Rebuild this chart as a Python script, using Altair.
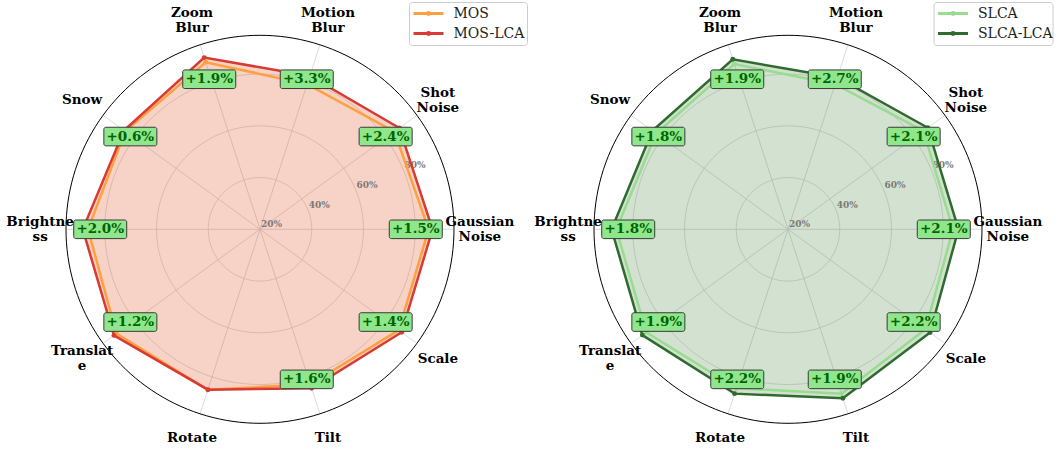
import altair as alt
import pandas as pd

# ---- data -------------------------------------------------------------
categories = ["Gaussian Noise", "Shot Noise", "Motion Blur", "Zoom Blur", "Snow",
              "Brightness", "Translate", "Rotate", "Tilt", "Scale"]
# rim labels, wrapped the way they are printed
category_labels = ["Gaussian\nNoise", "Shot\nNoise", "Motion\nBlur", "Zoom\nBlur", "Snow",
                   "Brightne\nss", "Translat\ne", "Rotate", "Tilt", "Scale"]

mos = [85.2, 84.2, 79.0, 87.9, 84.4, 86.5, 88.6, 85.2, 83.0, 86.3]
mos_lca = [86.7, 86.6, 82.3, 89.8, 85.0, 88.5, 89.8, 85.2, 84.6, 87.7]
slca = [83.8, 84.7, 79.0, 87.2, 83.0, 86.4, 87.7, 84.6, 86.8, 85.7]
slca_lca = [85.9, 86.8, 81.7, 89.1, 84.8, 88.2, 89.6, 86.8, 88.7, 87.9]

radial_ticks = [20, 40, 60, 80]
ring_levels = [40, 60, 80]
R_MIN, R_MAX = 20, 95

panels = [
    {"base": "MOS", "lca": "MOS-LCA", "base_vals": mos, "lca_vals": mos_lca},
    {"base": "SLCA", "lca": "SLCA-LCA", "base_vals": slca, "lca_vals": slca_lca},
]
series_names = ["MOS", "MOS-LCA", "SLCA", "SLCA-LCA"]
series_colors = ["#ffa040", "#d93a33", "#98dc8f", "#2f6b2f"]
fill_colors = ["#df4f1f", "#4b8743"]

# ---- layout -----------------------------------------------------------
W, H = 1055, 452
K = 194 / (R_MAX - R_MIN)          # pixels per percentage point
CY = 229.3
CX_EXPR = "datum.panel == 0 ? 260 : 788"
SERIF = "DejaVu Serif"
RING_STEPS = 180                   # segments used to trace each grid circle
GRID = "#d2d2d2"

xs = alt.Scale(domain=[0, W], nice=False, zero=False)
ys = alt.Scale(domain=[0, H], nice=False, zero=False, reverse=True)


def X(f):
    return alt.X(f, type="quantitative", scale=xs, axis=None)


def Y(f):
    return alt.Y(f, type="quantitative", scale=ys, axis=None)


def polar(chart, angle_expr="datum.idx * PI / 5"):
    """Convert (idx/angle, value) rows into canvas x/y around each panel's centre."""
    return chart.transform_calculate(
        ang=angle_expr,
        cx=CX_EXPR,
        cy=str(CY),
        rp=f"(datum.value - {R_MIN}) * {K}",
    ).transform_calculate(
        px="datum.cx + datum.rp * cos(datum.ang)",
        py="datum.cy - datum.rp * sin(datum.ang)",
    )


# ---- tables -------------------------------------------------------------
rows = []
for p, spec in enumerate(panels):
    for i in range(len(categories)):
        rows.append({"panel": p, "idx": i, "series": "base", "name": spec["base"],
                     "value": spec["base_vals"][i]})
        rows.append({"panel": p, "idx": i, "series": "lca", "name": spec["lca"],
                     "value": spec["lca_vals"][i]})
df = pd.DataFrame(rows)

delta_rows = []
for p, spec in enumerate(panels):
    for i in range(len(categories)):
        d = round(spec["lca_vals"][i] - spec["base_vals"][i], 1)
        if d > 0:
            delta_rows.append({"panel": p, "idx": i, "value": 81, "text": f"+{d:.1f}%"})
df_delta = pd.DataFrame(delta_rows)

df_rings = pd.DataFrame([
    {"panel": p, "ring": f"{p}-{lvl}", "value": lvl, "k": k}
    for p in (0, 1) for lvl in ring_levels + [R_MAX] for k in range(RING_STEPS)
])
df_spokes = pd.DataFrame([{"panel": p, "idx": i, "value": R_MAX}
                          for p in (0, 1) for i in range(len(categories))])
df_ticks = pd.DataFrame([{"panel": p, "value": v, "text": f"{v}%"}
                         for p in (0, 1) for v in radial_ticks])
df_cats = pd.DataFrame([{"panel": p, "idx": i, "value": 105, "text": category_labels[i],
                         "nl": category_labels[i].count("\n") + 1}
                        for p in (0, 1) for i in range(len(categories))])

legend_left = [409.5, 934.0]
legend_right = [527.5, 1053.0]
df_legbox = pd.DataFrame([{"x0": legend_left[p], "x1": legend_right[p], "y0": 2.5, "y1": 45.5}
                          for p in (0, 1)])
df_leg = pd.DataFrame([
    {"name": panels[p][key], "lx0": legend_left[p] + 4, "lx1": legend_left[p] + 34,
     "mx": legend_left[p] + 19, "tx": legend_left[p] + 44, "ly": 13.5 + 20 * r}
    for p in (0, 1) for r, key in enumerate(["base", "lca"])
])

color = alt.Color("name:N", scale=alt.Scale(domain=series_names, range=series_colors), legend=None)
ring_angle = f"datum.k * 2 * PI / {RING_STEPS}"

layers = []

# grid circles and spokes
layers.append(
    polar(alt.Chart(df_rings).transform_filter(f"datum.value < {R_MAX}"), angle_expr=ring_angle)
    .mark_line(interpolate="linear-closed", color=GRID, strokeWidth=0.8)
    .encode(x=X("px"), y=Y("py"), detail="ring:N", order="k:Q")
)
layers.append(
    polar(alt.Chart(df_spokes)).transform_calculate(cyv=str(CY))
    .mark_rule(color=GRID, strokeWidth=0.8)
    .encode(x=X("cx"), y=Y("cyv"), x2="px:Q", y2="py:Q")
)

# translucent polygon fill, one per panel
for p in (0, 1):
    layers.append(
        polar(alt.Chart(df).transform_filter(f"datum.panel == {p} && datum.series == 'lca'"))
        .mark_line(interpolate="linear-closed", fill=fill_colors[p], fillOpacity=0.25,
                   strokeOpacity=0)
        .encode(x=X("px"), y=Y("py"), order="idx:Q")
    )

# radial tick labels
layers.append(
    polar(alt.Chart(df_ticks), angle_expr="PI / 8")
    .mark_text(font=SERIF, fontSize=9, fontWeight="bold", color="#7a7a7a",
               align="left", baseline="middle", dx=1, dy=-5)
    .encode(x=X("px"), y=Y("py"), text="text:N")
)

# outer frame
layers.append(
    polar(alt.Chart(df_rings).transform_filter(f"datum.value == {R_MAX}"), angle_expr=ring_angle)
    .mark_line(interpolate="linear-closed", color="#000000", strokeWidth=1)
    .encode(x=X("px"), y=Y("py"), detail="ring:N", order="k:Q")
)

# series lines and markers (baseline below, LCA on top)
for s in ("base", "lca"):
    sub = polar(alt.Chart(df).transform_filter(f"datum.series == '{s}'"))
    layers.append(
        sub.mark_line(interpolate="linear-closed", strokeWidth=2.5)
        .encode(x=X("px"), y=Y("py"), color=color, detail="name:N", order="idx:Q")
    )
    layers.append(
        sub.mark_circle(size=24, opacity=1)
        .encode(x=X("px"), y=Y("py"), color=color)
    )

# improvement badges
badge = polar(alt.Chart(df_delta)).transform_calculate(
    bx="datum.px - 2", bx0="datum.px - 28.5", bx1="datum.px + 24.5",
    by0="datum.py - 9.3", by1="datum.py + 9.3",
)
layers.append(
    badge.mark_rect(fill="#90e68c", stroke="#3a3a3a", strokeWidth=1, cornerRadius=2)
    .encode(x=X("bx0"), x2="bx1:Q", y=Y("by0"), y2="by1:Q")
)
layers.append(
    badge.mark_text(font=SERIF, fontSize=13.5, fontWeight="bold", color="#006400",
                    align="center", baseline="middle")
    .encode(x=X("bx"), y=Y("py"), text="text:N")
)

# category labels around the rim (multi-line blocks centred on their anchor)
layers.append(
    polar(alt.Chart(df_cats)).transform_calculate(ty="datum.py - (datum.nl - 1) * 7.5")
    .mark_text(font=SERIF, fontSize=13.5, fontWeight="bold", color="#000000",
               align="center", baseline="middle", lineBreak="\n", lineHeight=15)
    .encode(x=X("px"), y=Y("ty"), text="text:N")
)

# legends
layers.append(
    alt.Chart(df_legbox).mark_rect(fill="#ffffff", fillOpacity=0.85, stroke="#cccccc",
                                   strokeWidth=1, cornerRadius=3)
    .encode(x=X("x0"), x2="x1:Q", y=Y("y0"), y2="y1:Q")
)
layers.append(
    alt.Chart(df_leg).mark_rule(strokeWidth=3)
    .encode(x=X("lx0"), x2="lx1:Q", y=Y("ly"), color=color)
)
layers.append(
    alt.Chart(df_leg).mark_circle(size=24, opacity=1)
    .encode(x=X("mx"), y=Y("ly"), color=color)
)
layers.append(
    alt.Chart(df_leg).mark_text(font=SERIF, fontSize=14, color="#222222",
                                align="left", baseline="middle")
    .encode(x=X("tx"), y=Y("ly"), text="name:N")
)

chart = alt.layer(*layers).properties(
    width=W, height=H, padding=0,
    autosize=alt.AutoSizeParams(type="none"),
).configure_view(stroke=None)

chart.save("out.html", embed_options={"renderer": "svg", "actions": False})
